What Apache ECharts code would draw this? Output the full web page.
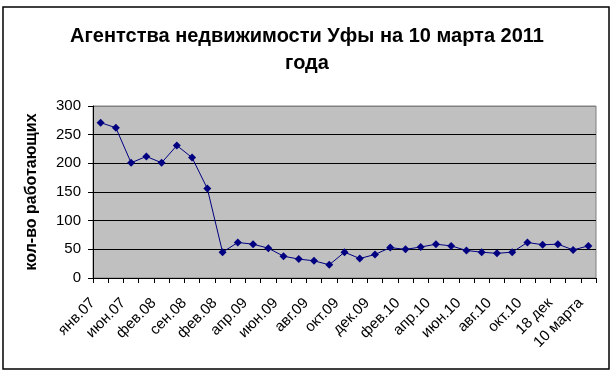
<!DOCTYPE html>
<html>
<head>
<meta charset="utf-8">
<script src="https://cdn.jsdelivr.net/npm/echarts@6/dist/echarts.min.js"></script>
<style>
html,body{margin:0;padding:0;background:#fff;}
#c{width:614px;height:374px;}
</style>
</head>
<body>
<div id="c"></div>
<script>
var categories = ['янв.07','апр.07','июн.07','сен.07','фев.08','май.08','сен.08','дек.08','фев.08','мар.09','апр.09','май.09','июн.09','июл.09','авг.09','сен.09','окт.09','ноя.09','дек.09','янв.10','фев.10','мар.10','апр.10','май.10','июн.10','июл.10','авг.10','сен.10','окт.10','ноя.10','18 дек','янв.11','10 марта'];
var values = [271,262,201,212,201,231,210,156,45,62,59,52,38,33,30,23,45,34,41,53,50,54,59,56,48,45,43,45,62,58,59,49,56];
var yTicks = [0,50,100,150,200,250,300];
var titleText = 'Агентства недвижимости Уфы на 10 марта 2011\nгода';
var yName = 'кол-во работающих';

var chart = echarts.init(document.getElementById('c'));
var FONT = '"Liberation Sans", Arial, sans-serif';
chart.setOption({
  backgroundColor: '#ffffff',
  animation: false,
  title: {
    text: titleText,
    left: 'center',
    top: 18,
    textStyle: {fontFamily: FONT, fontSize: 20, fontWeight: 'bold', color: '#000', lineHeight: 27}
  },
  graphic: [{
    type: 'rect', shape: {x: 3, y: 7, width: 606, height: 362},
    style: {fill: 'none', stroke: '#000', lineWidth: 1.5}, silent: true
  }],
  grid: {left: 93, right: 18, top: 106, bottom: 96, show: true, backgroundColor: '#c0c0c0', borderColor: '#808080', borderWidth: 1},
  xAxis: {
    type: 'category',
    data: categories,
    boundaryGap: true,
    axisLine: {lineStyle: {color: '#000', width: 1}},
    axisTick: {show: true, interval: 0, length: 5, lineStyle: {color: '#000'}},
    axisLabel: {interval: 1, rotate: 45, fontFamily: FONT, fontSize: 15, color: '#000', margin: 15, padding: [0, 11, 0, 0]},
    splitLine: {show: false}
  },
  yAxis: {
    type: 'value',
    min: yTicks[0], max: yTicks[yTicks.length - 1], interval: 50,
    name: yName,
    nameLocation: 'middle',
    nameGap: 53,
    nameTextStyle: {fontFamily: FONT, fontSize: 16, fontWeight: 'bold', color: '#000'},
    axisLine: {show: true, lineStyle: {color: '#000', width: 1}},
    axisTick: {show: true, length: 5, lineStyle: {color: '#000'}},
    axisLabel: {fontFamily: FONT, fontSize: 15, color: '#000', margin: 12},
    splitLine: {show: true, lineStyle: {color: ['#000','#000','#000','#000','#000','#000','#808080'], width: 1}}
  },
  series: [{
    type: 'line',
    data: values,
    symbol: 'diamond',
    symbolSize: 8,
    lineStyle: {color: '#000080', width: 1},
    itemStyle: {color: '#000080'}
  }]
});
</script>
</body>
</html>
